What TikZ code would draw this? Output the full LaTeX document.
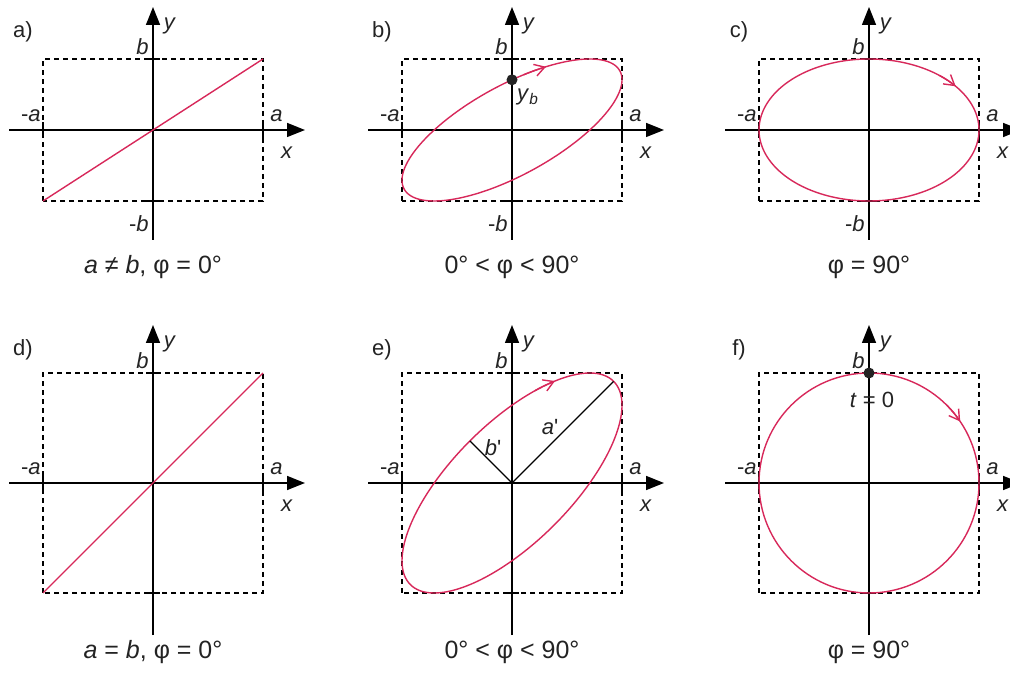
\documentclass[tikz,border=0pt]{standalone}
\usepackage{fontspec}
\setmainfont{Liberation Sans}
\usetikzlibrary{arrows.meta}
\definecolor{tracecol}{RGB}{215,40,90}
\definecolor{inkcol}{RGB}{35,35,35}
\newcommand{\oscframe}[4]{% #1 panel letter, #2 half height b, #3 y-axis bottom, #4 y-axis top
  \draw[limitbox] (-110,-#2) rectangle (110,#2);
  \draw[axisarrow] (-144,0) -- (152,0);
  \draw[axisarrow] (0,#3) -- (0,#4);
  \draw[tickmark] (-110,-8) -- (-110,8) (110,-8) -- (110,8)
                  (-7,#2) -- (7,#2) (-7,-#2) -- (7,-#2);
  \node[lbl,anchor=base east] (#1-na) at (-112,8) {-\textit{a}};
  \node[lbl,anchor=base west] (#1-pa) at (117,8) {\textit{a}};
  \node[lbl,anchor=base east] (#1-pb) at (-4,#2+4) {\textit{b}};
  \node[lbl] (#1-x) at (134,-23) {\textit{x}};
  \node[lbl] (#1-y) at (17,#4-19) {\textit{y}};
  \node[lbl] (#1-tag) at (-130,#4-25) {#1)};
}

\begin{document}
\begin{tikzpicture}[x=0.5pt,y=0.5pt,
   limitbox/.style={dash pattern=on 2.5pt off 2pt,line width=0.6pt},
   axisarrow/.style={-{Triangle[length=9pt,width=7pt]},line width=0.75pt},
   tickmark/.style={line width=0.75pt},
   trace/.style={tracecol,line width=0.7pt},
   traceflow/.style={trace,-{Straight Barb[length=5pt,width=6pt]}},
   dot/.style={circle,fill=inkcol,inner sep=0pt,minimum size=5.5pt},
   lbl/.style={inner sep=0pt,text=inkcol,font=\fontsize{11}{13}\selectfont},
   condition/.style={lbl,font=\fontsize{12.5}{15}\selectfont}]
  \useasboundingbox (0,0) rectangle (1010,679);

  \begin{scope}[shift={(153,549)}]
    \oscframe{a}{71}{-110}{123}
    \node[lbl,anchor=base east] (a-nb) at (-4,-102) {-\textit{b}};
    \draw[trace] (-110,-71) -- (110,71);
    \node[condition] (a-cond) at (0,-137) {\textit{a} ≠ \textit{b}, φ = 0°};
  \end{scope}

  \begin{scope}[shift={(512,549)}]
    \oscframe{b}{71}{-110}{123}
    \node[lbl,anchor=base east] (b-nb) at (-4,-102) {-\textit{b}};
    \draw[trace] plot[domain=0:360,samples=181,variable=\t]
          ({110*sin(\t)},{71*sin(\t+45)}) -- cycle;
    \draw[traceflow] plot[domain=6:18,samples=7,variable=\t]
          ({110*sin(\t)},{71*sin(\t+45)});
    \node[dot] (b-yb) at (0,50.2) {};
    \node[lbl] (b-yblab) at (16,33) {\textit{y}\textsubscript{\textit{b}}};
    \node[condition] (b-cond) at (0,-137) {0° < φ < 90°};
  \end{scope}

  \begin{scope}[shift={(869,549)}]
    \oscframe{c}{71}{-110}{123}
    \node[lbl,anchor=base east] (c-nb) at (-4,-102) {-\textit{b}};
    \draw[trace] plot[domain=0:360,samples=181,variable=\t]
          ({110*sin(\t)},{71*cos(\t)}) -- cycle;
    \draw[traceflow] plot[domain=40:52,samples=7,variable=\t]
          ({110*sin(\t)},{71*cos(\t)});
    \node[condition] (c-cond) at (0,-137) {φ = 90°};
  \end{scope}

  \begin{scope}[shift={(153,196)}]
    \oscframe{d}{110}{-152}{158}
    \draw[trace] (-110,-110) -- (110,110);
    \node[condition] (d-cond) at (0,-169) {\textit{a} = \textit{b}, φ = 0°};
  \end{scope}

  \begin{scope}[shift={(512,196)}]
    \oscframe{e}{110}{-152}{158}
    \draw[trace] plot[domain=0:360,samples=181,variable=\t]
          ({110*sin(\t)},{110*sin(\t+45)}) -- cycle;
    \draw[traceflow] plot[domain=12:23,samples=7,variable=\t]
          ({110*sin(\t)},{110*sin(\t+45)});
    \coordinate (e-o) at (0,0);
    \coordinate (e-maj) at (101.6,101.6);
    \coordinate (e-min) at (-42.1,42.1);
    \draw[tickmark,line width=0.6pt] (e-o) -- (e-maj) (e-o) -- (e-min);
    \node[lbl] (e-alab) at (38,56) {\textit{a}\textquotesingle};
    \node[lbl] (e-blab) at (-19,35) {\textit{b}\textquotesingle};
    \node[condition] (e-cond) at (0,-169) {0° < φ < 90°};
  \end{scope}

  \begin{scope}[shift={(869,196)}]
    \oscframe{f}{110}{-152}{158}
    \draw[trace] (0,0) circle[radius=110];
    \draw[traceflow] plot[domain=45:56,samples=7,variable=\t]
          ({110*sin(\t)},{110*cos(\t)});
    \node[dot] (f-start) at (0,110) {};
    \node[lbl] (f-tzero) at (3,83) {\textit{t} = 0};
    \node[condition] (f-cond) at (0,-169) {φ = 90°};
  \end{scope}
\end{tikzpicture}
\end{document}
